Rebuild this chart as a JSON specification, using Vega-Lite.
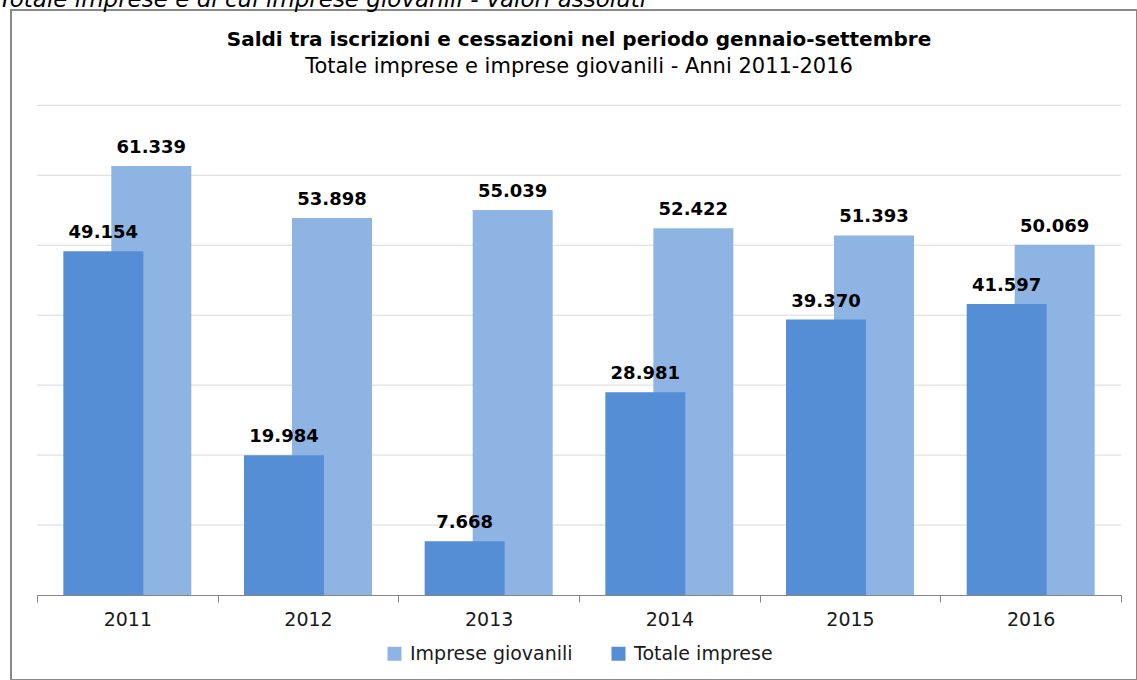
{
  "$schema": "https://vega.github.io/schema/vega-lite/v6.json",
  "width": 1126,
  "height": 670,
  "autosize": {"type": "none"},
  "padding": {"left": 11, "top": 10, "right": 0, "bottom": 0},
  "config": {
    "locale": {"number": {"decimal": ",", "thousands": ".", "grouping": [3], "currency": ["€", ""]}},
    "view": {"stroke": "#898989", "strokeWidth": 2},
    "font": "DejaVu Sans"
  },
  "title": {
    "text": "Saldi tra iscrizioni e cessazioni nel periodo gennaio-settembre",
    "subtitle": "Totale imprese e imprese giovanili - Anni 2011-2016",
    "anchor": "middle",
    "offset": -89,
    "dx": 5,
    "font": "DejaVu Sans",
    "fontSize": 20,
    "fontWeight": "bold",
    "color": "#000000",
    "subtitleFont": "DejaVu Sans",
    "subtitleFontSize": 21,
    "subtitleColor": "#000000",
    "subtitlePadding": 6
  },
  "data": {
    "values": [
      {"anno": "2011", "serie": "Totale imprese", "valore": 49154},
      {"anno": "2011", "serie": "Imprese giovanili", "valore": 61339},
      {"anno": "2012", "serie": "Totale imprese", "valore": 19984},
      {"anno": "2012", "serie": "Imprese giovanili", "valore": 53898},
      {"anno": "2013", "serie": "Totale imprese", "valore": 7668},
      {"anno": "2013", "serie": "Imprese giovanili", "valore": 55039},
      {"anno": "2014", "serie": "Totale imprese", "valore": 28981},
      {"anno": "2014", "serie": "Imprese giovanili", "valore": 52422},
      {"anno": "2015", "serie": "Totale imprese", "valore": 39370},
      {"anno": "2015", "serie": "Imprese giovanili", "valore": 51393},
      {"anno": "2016", "serie": "Totale imprese", "valore": 41597},
      {"anno": "2016", "serie": "Imprese giovanili", "valore": 50069}
    ]
  },
  "encoding": {
    "y": {
      "field": "valore",
      "type": "quantitative",
      "scale": {"domain": [0, 70000], "range": [585, 95.3], "nice": false, "zero": false},
      "axis": {
        "orient": "left",
        "domain": false,
        "ticks": false,
        "labels": false,
        "grid": false,
        "title": "Totale imprese e di cui imprese giovanili - Valori assoluti",
        "titleAngle": 0,
        "titleAlign": "left",
        "titleBaseline": "alphabetic",
        "titleX": -13,
        "titleY": -4,
        "titleFont": "DejaVu Sans",
        "titleFontStyle": "italic",
        "titleFontWeight": "normal",
        "titleFontSize": 23,
        "titleLimit": 1200,
        "titleColor": "#000000"
      }
    }
  },
  "resolve": {"scale": {"x": "independent"}},
  "layer": [
    {
      "data": {"values": [{"valore": 10000}, {"valore": 20000}, {"valore": 30000}, {"valore": 40000}, {"valore": 50000}, {"valore": 60000}, {"valore": 70000}]},
      "mark": {"type": "rule", "color": "#D9D9D9", "strokeWidth": 1},
      "encoding": {
        "x": {"datum": 0, "type": "quantitative", "scale": {"domain": [0, 1], "range": [26, 1110]}, "axis": null},
        "x2": {"datum": 1}
      }
    },
    {
      "encoding": {
        "x": {
          "field": "anno",
          "type": "nominal",
          "scale": {"range": [26, 1110], "paddingInner": 0, "paddingOuter": 0},
          "axis": {
            "orient": "bottom",
            "offset": -85,
            "tickBand": "extent",
            "domainColor": "#868686",
            "tickColor": "#868686",
            "tickSize": 7,
            "labelFontSize": 19,
            "labelFont": "DejaVu Sans",
            "labelColor": "#1a1a1a",
            "labelPadding": 8,
            "labelAngle": 0,
            "title": null,
            "grid": false
          }
        }
      },
      "layer": [
        {
          "transform": [{"filter": "datum.serie === 'Imprese giovanili'"}],
          "mark": {"type": "bar", "width": 80, "xOffset": 24},
          "encoding": {
            "color": {
              "field": "serie",
              "type": "nominal",
              "scale": {"domain": ["Imprese giovanili", "Totale imprese"], "range": ["#8EB4E3", "#558ED5"]},
              "legend": {
                "orient": "none",
                "legendX": 374,
                "legendY": 634,
                "direction": "horizontal",
                "title": null,
                "symbolType": "square",
                "symbolSize": 196,
                "symbolStrokeWidth": 0,
                "labelFontSize": 19,
                "labelFont": "DejaVu Sans",
                "labelColor": "#1a1a1a",
                "labelLimit": 400,
                "labelOffset": 6,
                "columnPadding": 36
              }
            }
          }
        },
        {
          "transform": [{"filter": "datum.serie === 'Totale imprese'"}],
          "mark": {"type": "bar", "width": 80, "xOffset": -24},
          "encoding": {
            "color": {"field": "serie", "type": "nominal"}
          }
        },
        {
          "transform": [{"filter": "datum.serie === 'Imprese giovanili'"}],
          "mark": {"type": "text", "xOffset": 24, "dy": -13, "baseline": "alphabetic", "fontWeight": "bold", "fontSize": 18, "font": "DejaVu Sans", "color": "#000000"},
          "encoding": {"text": {"field": "valore", "type": "quantitative", "format": ","}}
        },
        {
          "transform": [{"filter": "datum.serie === 'Totale imprese'"}],
          "mark": {"type": "text", "xOffset": -24, "dy": -13, "baseline": "alphabetic", "fontWeight": "bold", "fontSize": 18, "font": "DejaVu Sans", "color": "#000000"},
          "encoding": {"text": {"field": "valore", "type": "quantitative", "format": ","}}
        }
      ]
    }
  ]
}
